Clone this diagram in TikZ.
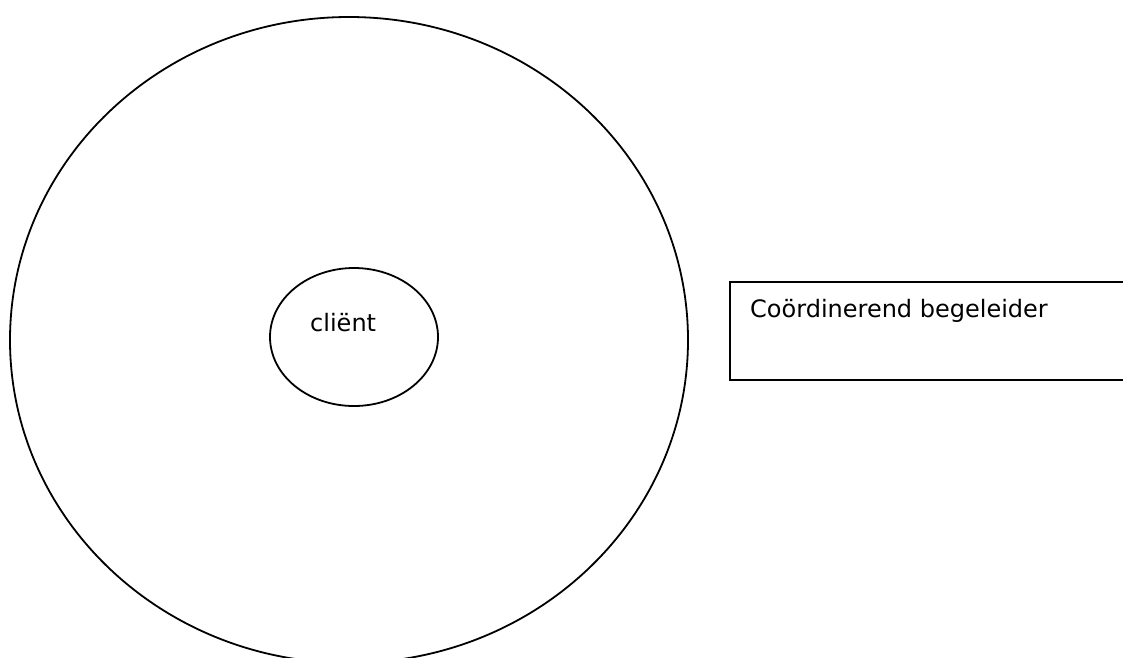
\documentclass[tikz,border=0pt]{standalone}
\usepackage{fontspec}
\setmainfont{DejaVu Sans}
\usetikzlibrary{shapes.geometric}
\tikzset{
  outline/.style={draw=black, line width=1.8pt, inner sep=0pt},
  lbl/.style={inner sep=0pt, font=\fontsize{24}{28}\selectfont, text=black}
}
\begin{document}
\begin{tikzpicture}[x=1pt,y=-1pt]
\useasboundingbox (0,0) rectangle (1123,657);
\clip (0,0) rectangle (1123,657);
\fill[white] (0,0) rectangle (1123,657);
\node[outline, ellipse, minimum width=678pt, minimum height=646pt] (outer) at (349,340) {};
\node[outline, ellipse, minimum width=168pt, minimum height=138pt] (client) at (354,337) {};
\node[lbl, anchor=base west] (clienttext) at (310,331) {cliënt};
\node[outline, rectangle, anchor=north west, minimum width=430pt, minimum height=98pt] (cb) at (729,281) {};
\node[lbl, anchor=base west] (cbtext) at (750,317) {Coördinerend begeleider};
\end{tikzpicture}
\end{document}
